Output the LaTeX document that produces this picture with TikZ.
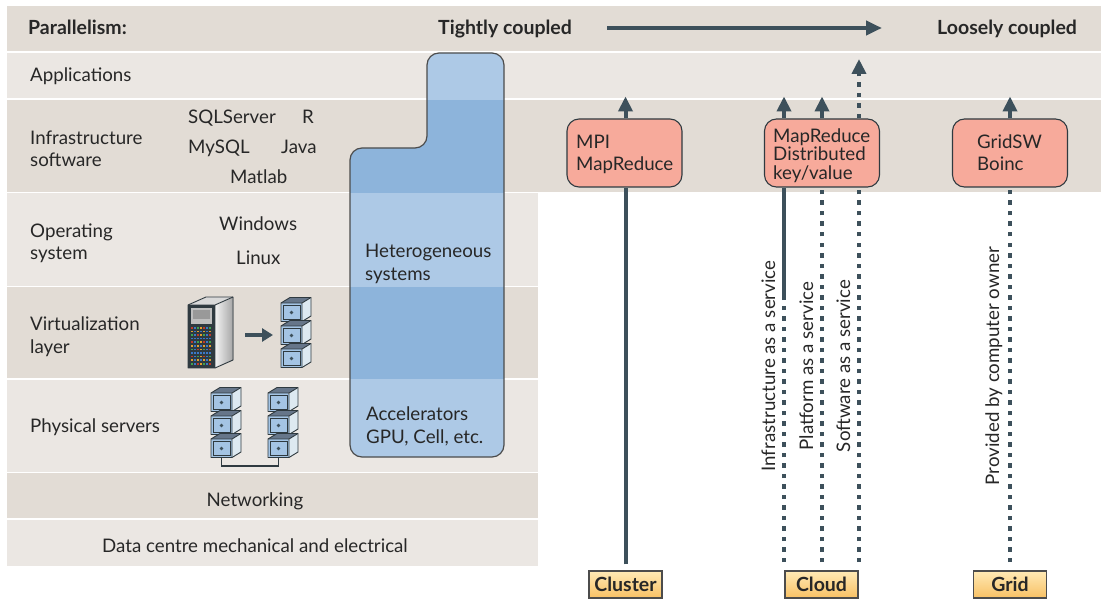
\documentclass[tikz,border=0pt]{standalone}
\usepackage{fontspec}
\setmainfont{Lato}
\usetikzlibrary{arrows.meta}
\definecolor{bandD}{HTML}{E2DCD5}
\definecolor{bandL}{HTML}{EBE7E3}
\definecolor{blueL}{HTML}{ADC9E6}
\definecolor{blueD}{HTML}{8DB4DB}
\definecolor{pinkF}{HTML}{F7AA9B}
\definecolor{slate}{HTML}{3D505B}
\definecolor{txt}{HTML}{272727}
\definecolor{lblT}{HTML}{FFE9B5}
\definecolor{lblB}{HTML}{F8C164}
\definecolor{dot0}{HTML}{C0392B}
\definecolor{dot1}{HTML}{3C78C8}
\definecolor{dot2}{HTML}{3FA34D}
\definecolor{dot3}{HTML}{E0A030}
\definecolor{srvfront}{HTML}{A4C4E4}
\definecolor{srvside}{HTML}{DDE9F1}
\definecolor{srvtop}{HTML}{66768A}
\definecolor{outl}{HTML}{2F3A40}
\tikzset{
  lbl/.style={anchor=base west, inner sep=0pt, text=txt},
  clbl/.style={anchor=base, inner sep=0pt, text=txt},
  tb/.style={anchor=base west, inner sep=0pt, text=txt, font=\fontsize{19.5}{23}\selectfont\bfseries},
  rot/.style={anchor=base, inner sep=0pt, rotate=90, text=txt},
  pbox/.style={draw=outl, line width=1.1pt, fill=pinkF, rounded corners=12pt, minimum width=115pt, minimum height=68pt, inner sep=0pt},
  lblbox/.style={draw=black!70, line width=1.3pt, top color=lblT, bottom color=lblB, minimum width=73pt, minimum height=27pt, inner sep=0pt, text=txt, font=\fontsize{19.5}{23}\selectfont\bfseries},
  solidln/.style={slate, line width=4pt},
  dotln/.style={slate, line width=4pt, dash pattern=on 4.5pt off 6pt},
  arrln/.style={solidln, -{Triangle[length=15pt,width=14pt]}},
  dotarr/.style={dotln, -{Triangle[length=15pt,width=14pt]}},
  srvunit/.pic={
    \fill[srvtop] (0,6) -- (9,0.5) -- (30,0.5) -- (21,6) -- cycle;
    \fill[srvside] (21,6) -- (30,0.5) -- (30,19) -- (21,24.5) -- cycle;
    \fill[srvfront, rounded corners=1.5pt] (0,6) rectangle (21,24.5);
    \draw[outl, line width=0.9pt, line join=round] (0,6) -- (9,0.5) -- (30,0.5) -- (30,19) -- (21,24.5) -- (0,24.5) -- cycle;
    \draw[outl, line width=0.9pt] (0,6) -- (21,6) -- (30,0.5) (21,6) -- (21,24.5);
    \draw[outl, line width=0.6pt] (2,8) rectangle (19,22.5);
    \fill[slate] (10.5,15.5) circle (1.8pt);
  },
  srvstack/.pic={
    \pic at (0,0) {srvunit};
    \pic at (0,23) {srvunit};
    \pic at (0,46) {srvunit};
  },
  tower/.pic={
    \fill[left color=white!90!gray, right color=gray!70] (27,8) -- (45,0) -- (45,63) -- (27,71) -- cycle;
    \fill[gray!30] (0,8) -- (18,0) -- (45,0) -- (27,8) -- cycle;
    \fill[outl] (0,8) rectangle (27,71);
    \fill[gray!50] (3,11) rectangle (24,27);
    \fill[gray!80] (5,13) rectangle (22,22);
    \foreach \i in {0,...,10} {
      \foreach \j in {0,...,6} {
        \pgfmathtruncatemacro\k{mod(\i*3+\j*5+\i*\j,4)}
        \fill[dot\k] (3.2+\j*3,30+\i*3.6) rectangle ++(1.6,1.6);
      }
    }
    \draw[outl, line width=0.9pt, line join=round] (0,8) -- (18,0) -- (45,0) -- (45,63) -- (27,71) -- (0,71) -- cycle;
    \draw[outl, line width=0.9pt] (0,8) -- (27,8) -- (45,0) (27,8) -- (27,71);
  }
}
\begin{document}
\begin{tikzpicture}[x=1pt, y=-1pt, font=\fontsize{18.7}{22}\selectfont]
\useasboundingbox (0,0) rectangle (1104,599);
\fill[white] (0,0) rectangle (1104,599);
% bands
\fill[bandD] (7,6) rectangle (1101,51.5);
\fill[bandL] (7,53) rectangle (1101,98.5);
\fill[bandD] (7,100) rectangle (1101,192);
\fill[bandL] (7,193.5) rectangle (538,285.5);
\fill[bandD] (7,287) rectangle (538,378);
\fill[bandL] (7,380) rectangle (538,471.5);
\fill[bandD] (7,473) rectangle (538,518);
\fill[bandL] (7,519.5) rectangle (538,566);
% blue shape
\begin{scope}
\clip[rounded corners=12pt] (350,300) -- (350,148) -- (427,148) -- (427,53) -- (504,53) -- (504,457) -- (350,457) -- cycle;
\fill[blueL] (340,40) rectangle (520,100);
\fill[blueD] (340,100) rectangle (520,193);
\fill[blueL] (340,193) rectangle (520,286.5);
\fill[blueD] (340,286.5) rectangle (520,379);
\fill[blueL] (340,379) rectangle (520,470);
\end{scope}
\draw[draw=black!70, line width=1.2pt, rounded corners=12pt] (350,300) -- (350,148) -- (427,148) -- (427,53) -- (504,53) -- (504,457) -- (350,457) -- cycle;
% header
\node[tb] (par) at (28,35) {Parallelism:};
\node[tb] (tight) at (438,35) {Tightly coupled};
\node[tb] (loose) at (937,35) {Loosely coupled};
\coordinate (aS) at (607,28);
\coordinate (aE) at (882,28);
\draw[solidln, -{Triangle[length=16pt,width=14pt]}] (aS) -- (aE);
% row labels
\node[lbl] (app) at (30,82) {Applications};
\node[lbl] (inf1) at (30,145) {Infrastructure};
\node[lbl] (inf2) at (30,167) {software};
\node[lbl] (os1) at (30,237) {Operating};
\node[lbl] (os2) at (30,259) {system};
\node[lbl] (vl1) at (30,330) {Virtualization};
\node[lbl] (vl2) at (30,353) {layer};
\node[lbl] (phys) at (30,432) {Physical servers};
\node[clbl] (net) at (255,506) {Networking};
\node[clbl] (dc) at (255,552) {Data centre mechanical and electrical};
% software list
\node[lbl] (sql) at (188,124) {SQLServer};
\node[lbl] (rr) at (302,124) {R};
\node[lbl] (mysql) at (188,154) {MySQL};
\node[lbl] (java) at (281,154) {Java};
\node[lbl] (matlab) at (230,184) {Matlab};
\node[lbl] (win) at (219,230) {Windows};
\node[lbl] (linux) at (236,264) {Linux};
% blue texts
\node[lbl] (het1) at (365,258) {Heterogeneous};
\node[lbl] (het2) at (365,280) {systems};
\node[lbl] (acc1) at (366,420) {Accelerators};
\node[lbl] (acc2) at (366,443) {GPU, Cell, etc.};
% servers
\pic at (188,297) {tower};
\coordinate (va1) at (245,335);
\coordinate (va2) at (273,335);
\draw[slate, line width=4pt, -{Triangle[length=11pt,width=13pt]}] (va1) -- (va2);
\pic at (281,297) {srvstack};
\pic at (211,387) {srvstack};
\pic at (268,387) {srvstack};
\coordinate (p1) at (221.5,457.5);
\coordinate (p2) at (278.5,457.5);
\draw[outl, line width=1.1pt] (p1) -- ++(0,8.5) -| (p2);
% pink boxes
\node[pbox] (mpi) at (624.5,153) {};
\node[pbox] (cbox) at (822,153) {};
\node[pbox] (gbox) at (1010,153) {};
\node[lbl] (mpi1) at (576,149) {MPI};
\node[lbl] (mpi2) at (576,171) {MapReduce};
\node[lbl] (cb1) at (773,143) {MapReduce};
\node[lbl] (cb2) at (773,161) {Distributed};
\node[lbl] (cb3) at (773,179) {key/value};
\node[lbl] (gb1) at (977,149) {GridSW};
\node[lbl] (gb2) at (977,171) {Boinc};
% labels
\node[lblbox] (cluster) at (625.5,584.5) {Cluster};
\node[lblbox] (cloud) at (821.5,584.5) {Cloud};
\node[lblbox] (grid) at (1010,584.5) {Grid};
% cluster connectors
\draw[solidln, shorten <=6pt] (cluster.north) -- (cluster.north |- mpi.south);
\draw[arrln] (cluster.north |- mpi.north) -- ++(0,-22);
% cloud connectors
\coordinate (cx1) at (784,562);
\coordinate (cbreak) at (784,300);
\coordinate (cx2) at (822,562);
\coordinate (cx3) at (859,562);
\coordinate (ctop) at (859,59);
\draw[dotln] (cx1) -- (cbreak);
\draw[solidln] (cbreak) -- (cbreak |- cbox.south);
\draw[arrln] (cbreak |- cbox.north) -- ++(0,-22);
\draw[dotln] (cx2) -- (cx2 |- cbox.south);
\draw[arrln] (cx2 |- cbox.north) -- ++(0,-22);
\draw[dotln] (cx3) -- (cx3 |- cbox.south);
\draw[dotarr] (cx3 |- cbox.north) -- (ctop);
% grid connectors
\coordinate (gx) at (1010,562);
\draw[dotln] (gx) -- (gx |- gbox.south);
\draw[arrln] (gx |- gbox.north) -- ++(0,-22);
% rotated labels
\node[rot] (iaas) at (775,366) {Infrastructure as a service};
\node[rot] (paas) at (813,366) {Platform as a service};
\node[rot] (saas) at (850,366) {Software as a service};
\node[rot] (prov) at (999,366) {Provided by computer owner};
\end{tikzpicture}
\end{document}
